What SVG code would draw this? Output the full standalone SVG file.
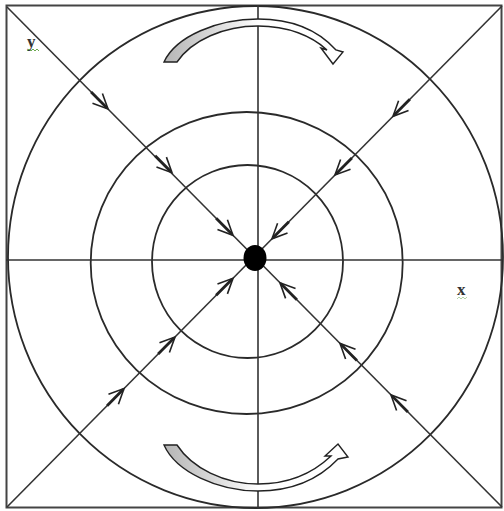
<svg xmlns="http://www.w3.org/2000/svg" xmlns:xlink="http://www.w3.org/1999/xlink" width="504" height="511" viewBox="0 0 504 511">
<style>
.ln{stroke:#333;stroke-width:1.6;fill:none}
.circ{stroke:#2a2a2a;stroke-width:1.8;fill:none}
.lbl{font-family:"Liberation Serif","DejaVu Serif",serif;font-size:17px;font-weight:bold;fill:#333}
.sq{stroke:#6aa84f;stroke-width:1;fill:none}
.blk{stroke:#222;stroke-width:1.4;fill:url(#g)}
</style>
<defs>
<linearGradient id="g" gradientUnits="userSpaceOnUse" x1="164" y1="0" x2="300" y2="0">
<stop offset="0" stop-color="#b5b5b5"/>
<stop offset="0.35" stop-color="#d8d8d8"/>
<stop offset="0.7" stop-color="#ffffff"/>
</linearGradient>
<g id="arr">
<line x1="-24" y1="0" x2="-1" y2="0" stroke="#222" stroke-width="2.8"/>
<path d="M -15 -7 L 0 0 L -15 7" fill="none" stroke="#222" stroke-width="1.6" stroke-linejoin="miter"/>
</g>
</defs>
<rect width="504" height="511" fill="#fff"/>
<g id="frame">
<rect x="6.5" y="5.5" width="495" height="502" fill="none" stroke="#444" stroke-width="2"/>
</g>
<g id="circles">
<ellipse id="outer" class="circ" cx="255.5" cy="257" rx="247.5" ry="251"/>
<ellipse id="middle" class="circ" cx="246.7" cy="263" rx="156" ry="151"/>
<ellipse id="inner" class="circ" cx="247.5" cy="261.5" rx="95.5" ry="96.5"/>
</g>
<g id="connectors">
<line class="ln" x1="258" y1="5" x2="258" y2="508"/>
<line class="ln" x1="6" y1="260" x2="502" y2="260"/>
<line class="ln" x1="7" y1="7" x2="502" y2="507"/>
<line class="ln" x1="7" y1="507" x2="502" y2="6"/>
<use xlink:href="#arr" transform="translate(108,109) rotate(45.3)"/>
<use xlink:href="#arr" transform="translate(172,172.7) rotate(45.3)"/>
<use xlink:href="#arr" transform="translate(233,235.3) rotate(45.3)"/>
<use xlink:href="#arr" transform="translate(393,116.3) rotate(134.7)"/>
<use xlink:href="#arr" transform="translate(335,175) rotate(134.7)"/>
<use xlink:href="#arr" transform="translate(272,238.8) rotate(134.7)"/>
<use xlink:href="#arr" transform="translate(124,388.6) rotate(-45.3)"/>
<use xlink:href="#arr" transform="translate(175,337) rotate(-45.3)"/>
<use xlink:href="#arr" transform="translate(233,278.3) rotate(-45.3)"/>
<use xlink:href="#arr" transform="translate(391,394.9) rotate(225.3)"/>
<use xlink:href="#arr" transform="translate(340,343.4) rotate(225.3)"/>
<use xlink:href="#arr" transform="translate(280,282.8) rotate(225.3)"/>
</g>
<g id="origin">
<ellipse cx="255" cy="258" rx="11.5" ry="13" fill="#000"/>
</g>
<g id="rot-top">
<path class="blk" d="M 164 62 C 176 36, 218 19, 258 19 C 292 19, 318 30, 336 50 L 343 52 L 333 64 L 321 48 L 327 50 C 312 36, 288 26, 258 26 C 224 26, 192 40, 177 62 Z"/>
</g>
<g id="rot-bottom">
<path class="blk" d="M 164 445 C 176 472, 218 491, 258 491 C 292 491, 318 480, 338 459 L 348 457 L 338 444 L 325 456 L 331 456 C 312 474, 288 484, 258 484 C 224 484, 192 468, 177 445 Z"/>
</g>
<g id="label-y">
<text class="lbl" x="27" y="47">y</text>
<path class="sq" d="M 27 51 l 2 -2 l 2 2 l 2 -2 l 2 2 l 2 -2 l 2 2"/>
</g>
<g id="label-x">
<text class="lbl" x="457" y="295">x</text>
<path class="sq" d="M 457 299 l 2 -2 l 2 2 l 2 -2 l 2 2 l 2 -2" opacity="0.5"/>
</g>
</svg>
